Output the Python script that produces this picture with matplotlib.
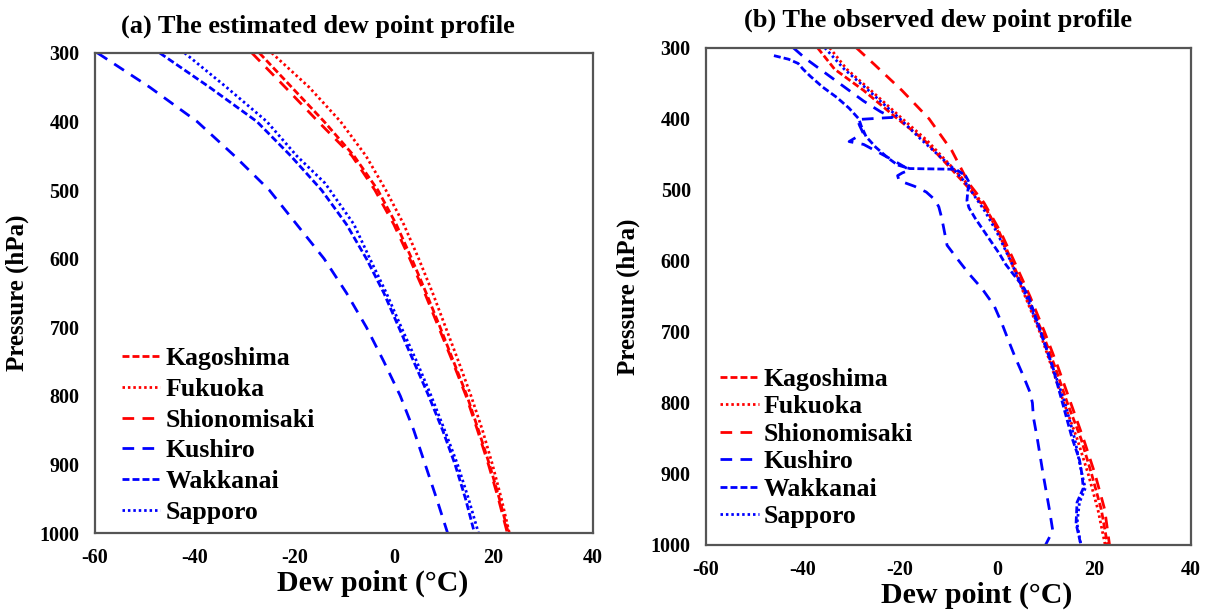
import matplotlib
matplotlib.use('Agg')
import matplotlib.pyplot as plt
import numpy as np

plt.rcParams['font.family'] = ['Liberation Serif', 'DejaVu Serif']
plt.rcParams['font.weight'] = 'bold'
plt.rcParams['axes.unicode_minus'] = False

stations = ['Kagoshima', 'Fukuoka', 'Shionomisaki', 'Kushiro', 'Wakkanai', 'Sapporo']

# (a) estimated profiles : pressure levels (hPa) and dew point (C)
est_p = [300, 350, 400, 450, 500, 550, 600, 650, 700, 750, 800, 850, 900, 950, 1000]
est_kagoshima = [-27, -20.5, -14, -8, -3.2, 0.5, 3.6, 6.5, 9.3, 12, 14.7, 17, 19.2, 21.2, 23]
est_fukuoka = [-24.5, -17, -10.7, -5.6, -1.6, 2, 5, 7.8, 10.4, 13, 15.5, 17.8, 19.8, 21.6, 23.2]
est_shionomisaki = [-28.5, -21.8, -15.2, -8.4, -3.8, 0, 3.2, 6.2, 9, 11.8, 14.5, 16.8, 19, 21, 22.8]
est_kushiro = [-59.5, -49, -39.5, -32, -25, -19.5, -14, -9.5, -5.5, -2, 1.3, 4, 6.3, 8.6, 10.8]
est_wakkanai = [-47, -37, -27.5, -20.7, -14.5, -9.5, -5.5, -2, 1, 4, 7, 9.8, 12.3, 14.4, 16.2]
est_sapporo_p = [300, 350, 400, 450, 490, 550, 600, 650, 700, 750, 800, 850, 900, 950, 1000]
est_sapporo = [-42, -33.6, -25.5, -19.5, -13.8, -8, -4.8, -1.5, 1.5, 4.6, 7.5, 10.2, 12.8, 15, 17]

# (b) observed profiles
obs_kagoshima_p = [300, 330, 360, 400, 430, 470, 500, 530, 560, 600, 650, 700, 750, 800, 850, 900, 950, 1000]
obs_kagoshima = [-37, -33.5, -27.5, -20.5, -15, -9.5, -5.5, -2, 0.5, 3, 6.2, 9.3, 12, 14.5, 17.3, 19.5, 21.5, 22.8]
obs_fukuoka_p = [300, 330, 360, 400, 430, 470, 500, 530, 560, 600, 650, 700, 750, 800, 850, 900, 950, 1000]
obs_fukuoka = [-34.5, -31, -26, -19.5, -14.5, -9, -5, -2, 0.3, 2.8, 5.8, 8.8, 11.3, 13.8, 16.5, 18.8, 20.8, 22.3]
obs_shionomisaki_p = [300, 324, 360, 400, 445, 491, 518, 560, 600, 650, 700, 750, 800, 850, 900, 950, 1000]
obs_shionomisaki = [-29, -25.2, -19.6, -14, -9.3, -5.8, -2.7, 0.8, 3.5, 6.8, 9.8, 12.6, 15.2, 17.8, 20.2, 22.2, 23.2]
obs_kushiro_p = [300, 315, 330, 345, 360, 375, 390, 398, 401, 410, 420, 432, 436, 447, 458, 466, 472, 476,
                 480, 487, 495, 503, 514, 524, 537, 550, 578, 597, 618, 639, 663, 688, 711, 735, 760, 785,
                 800, 820, 850, 900, 950, 980, 1000]
obs_kushiro = [-42, -39.5, -36.5, -33.5, -30.5, -27.5, -24, -21.6, -28.8, -28.3, -27.6, -30.5, -27.5, -24.5,
               -21.5, -19.5, -18, -19.5, -20.5, -20.2, -17, -14.6, -12.8, -12, -11.5, -11.1, -10.3, -8.2,
               -5.8, -3.1, -0.6, 1.0, 2.3, 3.7, 5.3, 6.8, 7.3, 7.5, 8.3, 9.5, 10.8, 11.5, 10]
obs_wakkanai_p = [311, 316, 322, 330, 340, 355, 370, 385, 400, 410, 425, 440, 455, 465, 470, 471, 480, 490,
                  500, 515, 525, 540, 555, 570, 590, 605, 620, 635, 650, 700, 750, 800, 850, 880, 900, 920,
                  940, 970, 1000]
obs_wakkanai = [-46, -43, -41, -40, -38.5, -36, -33, -30.5, -28.5, -28, -27, -25, -22.5, -20.5, -18, -8.5,
                -6.5, -5.7, -6, -6.2, -5.8, -4.5, -3, -1.5, 0.5, 1.8, 3.5, 5.3, 6.5, 9, 11.5, 13.5, 15.5,
                17, 17.5, 17.8, 16.5, 16.3, 17.3]
obs_sapporo_p = [300, 330, 360, 400, 430, 470, 490, 500, 530, 560, 600, 650, 700, 750, 800, 850, 900, 920,
                 940, 970, 1000]
obs_sapporo = [-35.5, -31.5, -26.5, -20, -15.5, -9, -6.5, -5.5, -2.5, 0, 2.8, 6, 9, 11.5, 14, 16, 17.5,
               18.2, 17, 16.5, 17.3]

colors = ['#ff0000', '#ff0000', '#ff0000', '#0000ff', '#0000ff', '#0000ff']
styles = [(0, (2.5, 1.1)), (0, (0.9, 1.05)), (0, (4.2, 3.0)), (0, (4.2, 3.0)), (0, (2.5, 1.1)), (0, (0.9, 1.05))]

fig = plt.figure(figsize=(12.1, 6.1), dpi=100)
ax_a = fig.add_axes([0.0785, 0.1262, 0.4116, 0.787])
ax_b = fig.add_axes([0.5835, 0.1066, 0.4008, 0.815])

est = [(est_p, est_kagoshima), (est_p, est_fukuoka), (est_p, est_shionomisaki),
       (est_p, est_kushiro), (est_p, est_wakkanai), (est_sapporo_p, est_sapporo)]
obs = [(obs_kagoshima_p, obs_kagoshima), (obs_fukuoka_p, obs_fukuoka), (obs_shionomisaki_p, obs_shionomisaki),
       (obs_kushiro_p, obs_kushiro), (obs_wakkanai_p, obs_wakkanai), (obs_sapporo_p, obs_sapporo)]

panels = [(ax_a, est, '(a) The estimated dew point profile', 0.448, (0.054, 0.203), 0.30),
          (ax_b, obs, '(b) The observed dew point profile', 0.478, (0.029, 0.195), 0.17)]

for ax, data, title, title_x, anchor, spacing in panels:
   for i, (p, t) in enumerate(data):
      ax.plot(t, p, color=colors[i], linestyle=styles[i], linewidth=2.0, label=stations[i])
   ax.set_xlim(-60, 40)
   ax.set_ylim(1000, 300)
   ax.set_xticks(np.arange(-60, 41, 20))
   ax.set_yticks(np.arange(300, 1001, 100))
   ax.tick_params(axis='x', labelsize=14.5, length=0, pad=11)
   ax.tick_params(axis='y', labelsize=14.5, length=0, pad=11)
   for lab in ax.get_xticklabels() + ax.get_yticklabels():
      lab.set_fontweight('bold')
   for sp in ax.spines.values():
      sp.set_color('#555555')
      sp.set_linewidth(1.6)
   ax.set_xlabel('Dew point (\u00b0C)', fontsize=21.5, fontweight='bold', labelpad=1, x=0.558)
   ax.set_ylabel('Pressure (hPa)', fontsize=18, fontweight='bold', labelpad=8)
   ax.set_title(title, fontsize=19, fontweight='bold', pad=15, x=title_x)
   ax.legend(loc='center left', bbox_to_anchor=anchor, frameon=False, borderpad=0, borderaxespad=0,
             prop={'size': 18.5, 'weight': 'bold'}, handlelength=1.5, handletextpad=0.2,
             labelspacing=spacing)

plt.savefig('out.png', dpi=100)
